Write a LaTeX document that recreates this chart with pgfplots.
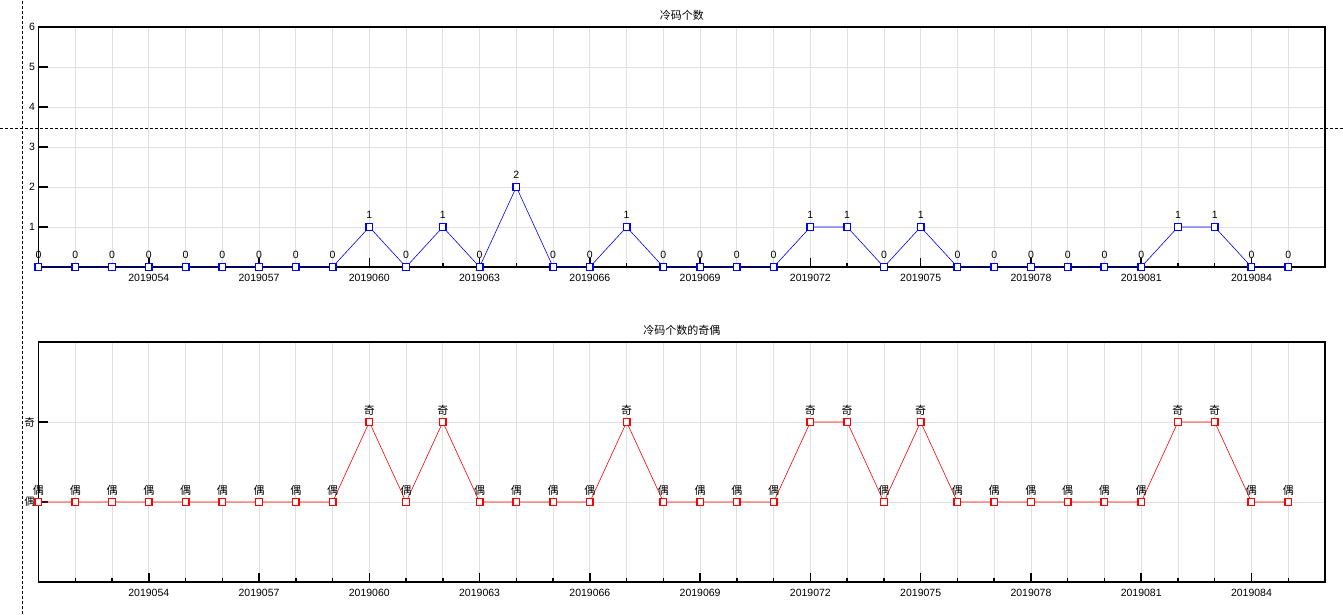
\documentclass[border=0pt]{standalone}
\usepackage{fontspec}
\setmainfont{Liberation Sans}
\newfontfamily\cjk{Noto Sans CJK SC}
\usepackage{pgfplots}
\usepackage{pgfplotstable}
\pgfplotsset{compat=1.18}

% x = index of the issue (0 = 2019051), v = cold-code count, p = parity (1 odd, 0 even)
\pgfplotstableread{
x v p lab
0 0 0 偶
1 0 0 偶
2 0 0 偶
3 0 0 偶
4 0 0 偶
5 0 0 偶
6 0 0 偶
7 0 0 偶
8 0 0 偶
9 1 1 奇
10 0 0 偶
11 1 1 奇
12 0 0 偶
13 2 0 偶
14 0 0 偶
15 0 0 偶
16 1 1 奇
17 0 0 偶
18 0 0 偶
19 0 0 偶
20 0 0 偶
21 1 1 奇
22 1 1 奇
23 0 0 偶
24 1 1 奇
25 0 0 偶
26 0 0 偶
27 0 0 偶
28 0 0 偶
29 0 0 偶
30 0 0 偶
31 1 1 奇
32 1 1 奇
33 0 0 偶
34 0 0 偶
}\data

\pgfplotsset{
  panel/.style={
    scale only axis, width=1286.5pt, height=240pt,
    anchor=south west,
    xmin=0, xmax=35,
    xtick={3,6,...,33},
    xticklabels={2019054,2019057,2019060,2019063,2019066,2019069,2019072,2019075,2019078,2019081,2019084},
    minor xtick={1,...,34},
    grid=both,
    major grid style={draw=black!12, line width=0.8pt},
    minor grid style={draw=black!12, line width=0.8pt},
    axis line style={line width=1.5pt},
    tick align=inside, xtick pos=bottom, ytick pos=left,
    major tick length=9pt, minor tick length=4pt,
    tick style={black, line width=1.5pt},
    tick label style={font=\fontsize{10.5}{12}\selectfont},
    xticklabel style={yshift=-4pt},
    /pgf/number format/assume math mode=true,
    title style={font=\cjk\fontsize{11}{13}\selectfont, yshift=-3pt},
    clip=false,
    point meta=explicit symbolic,
    nodes near coords,
    every node near coord/.style={anchor=center, yshift=12pt, black},
  },
}

\begin{document}
\begin{tikzpicture}
\useasboundingbox (0,0) rectangle (1343pt,614pt);

\begin{axis}[panel, at={(38.5pt,347pt)},
  title={冷码个数},
  ymin=0, ymax=6, ytick={1,...,6},
  every node near coord/.append style={font=\fontsize{10.5}{12}\selectfont}]
  \addplot[blue, line width=0.6pt, mark=square*, mark size=3.3pt,
    mark options={fill=white, draw=blue, line width=1.4pt}]
    table[x=x, y=v, meta=v] {\data};
\end{axis}

\begin{axis}[panel, at={(38.5pt,32pt)},
  title={冷码个数的奇偶},
  ymin=-1, ymax=2, ytick={0,1}, yticklabels={\cjk 偶,\cjk 奇},
  every node near coord/.append style={font=\cjk\fontsize{11}{13}\selectfont}]
  \addplot[red, line width=0.6pt, mark=square*, mark size=3.3pt,
    mark options={fill=white, draw=red, line width=1.4pt}]
    table[x=x, y=p, meta=lab] {\data};
\end{axis}

% cursor crosshair of the original screen
\draw[black, line width=0.8pt, dash pattern=on 3pt off 2pt] (22pt,0) -- (22pt,614pt);
\draw[black, line width=0.8pt, dash pattern=on 3pt off 2pt] (0,486pt) -- (1343pt,486pt);
\end{tikzpicture}
\end{document}
